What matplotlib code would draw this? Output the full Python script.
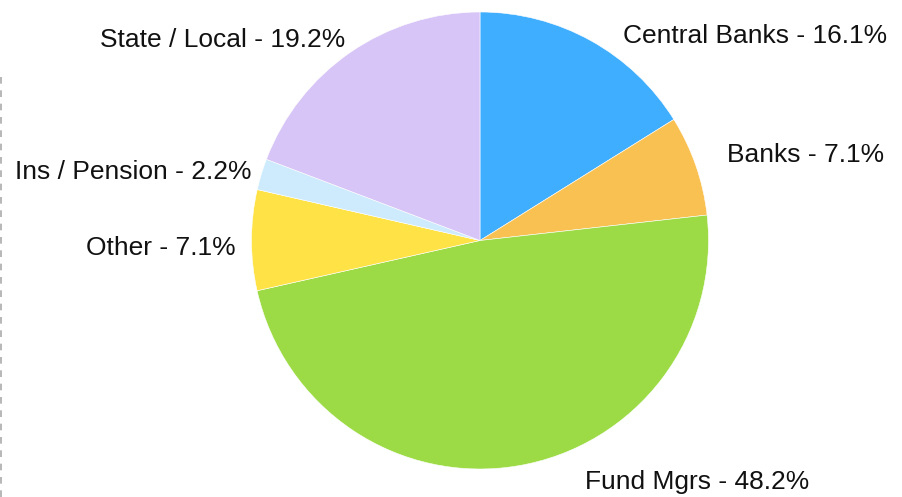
"""
Holders breakdown pie chart (Google-charts style, labels outside the slices).
"""

import matplotlib
matplotlib.use("Agg")
import matplotlib.pyplot as plt
from matplotlib.lines import Line2D

CATEGORIES = ["Central Banks", "Banks", "Fund Mgrs", "Other", "Ins / Pension", "State / Local"]
SHARES = [16.1, 7.1, 48.2, 7.1, 2.2, 19.2]
COLORS = ["#3FAEFF", "#F9C152", "#9DDB46", "#FFE246", "#CDEBFC", "#D7C5F7"]

# label anchor (x, y, ha) in pie units, radius = 1
LABEL_POS = {
    "Central Banks": (0.626, 0.895, "left"),
    "Banks": (1.081, 0.372, "left"),
    "Fund Mgrs": (0.460, -1.058, "left"),
    "Other": (-1.068, -0.033, "right"),
    "Ins / Pension": (-0.998, 0.300, "right"),
    "State / Local": (-0.591, 0.877, "right"),
}

W, H = 903, 497
CX, CY, R = 480, 240.5, 228.5   # pie centre / radius in pixels

plt.rcParams["font.family"] = ["Liberation Sans", "DejaVu Sans"]

fig = plt.figure(figsize=(W / 100, H / 100), dpi=100)
ax = fig.add_axes([0, 0, 1, 1])
ax.set_axis_off()

ax.pie(SHARES, colors=COLORS, startangle=90, counterclock=False, radius=1,
       wedgeprops=dict(linewidth=0.4, edgecolor="white"))
ax.set_xlim(-CX / R, (W - CX) / R)
ax.set_ylim(-(H - CY) / R, CY / R)
ax.set_aspect("auto")

for name, val in zip(CATEGORIES, SHARES):
    x, y, ha = LABEL_POS[name]
    ax.text(x, y, f"{name} - {val}%", ha=ha, va="center", fontsize=19, color="#111111")

# faint dashed divider on the left edge
fig.add_artist(Line2D([1.5 / W, 1.5 / W], [0, 1 - 75 / H], transform=fig.transFigure,
                      color="#AAAAAA", linewidth=1.2, linestyle=(0, (4, 4))))

fig.savefig("out.png", dpi=100)
plt.close(fig)
